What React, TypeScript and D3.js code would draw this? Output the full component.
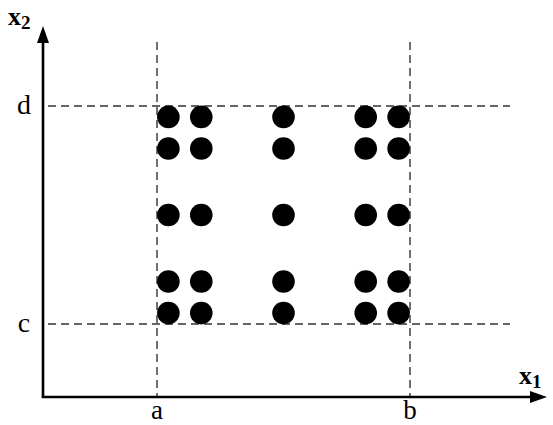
import { useEffect, useRef } from "react"
import * as d3 from "d3"

// normalized positions in [a,b] x [c,d]
const dotX = [0.045, 0.175, 0.5, 0.825, 0.955]
const dotY = [0.05, 0.195, 0.5, 0.805, 0.95]
const xBounds = [{ name: "a", v: 0 }, { name: "b", v: 1 }]
const yBounds = [{ name: "c", v: 0 }, { name: "d", v: 1 }]

const W = 553
const H = 425

const App = () => {
  const ref = useRef<SVGSVGElement>(null)

  useEffect(() => {
    const svg = d3.select(ref.current)
    svg.selectAll("*").remove()

    const x = d3.scaleLinear().domain([0, 1]).range([157, 410])
    const y = d3.scaleLinear().domain([0, 1]).range([324, 106])
    const ox = 43, oy = 397

    // dashed guide lines
    const guides = svg.append("g")
      .attr("stroke", "#333")
      .attr("stroke-width", 1.4)
      .attr("stroke-dasharray", "8,5")
      .attr("fill", "none")

    guides.selectAll("line.v")
      .data(xBounds)
      .join("line")
      .attr("class", "v")
      .attr("x1", d => x(d.v)).attr("x2", d => x(d.v))
      .attr("y1", 42).attr("y2", oy)

    guides.selectAll("line.h")
      .data(yBounds)
      .join("line")
      .attr("class", "h")
      .attr("x1", 48).attr("x2", 510)
      .attr("y1", d => y(d.v)).attr("y2", d => y(d.v))

    // dots
    const pts = d3.cross(dotX, dotY)
    svg.append("g")
      .selectAll("circle")
      .data(pts)
      .join("circle")
      .attr("cx", d => x(d[0]))
      .attr("cy", d => y(d[1]))
      .attr("r", 11.3)
      .attr("fill", "#000")

    // axes
    svg.append("line")
      .attr("x1", ox).attr("y1", oy).attr("x2", ox).attr("y2", 40)
      .attr("stroke", "#000").attr("stroke-width", 2.6)
    svg.append("line")
      .attr("x1", ox - 1.3).attr("y1", oy).attr("x2", 532).attr("y2", oy)
      .attr("stroke", "#000").attr("stroke-width", 2.6)
    svg.append("path")
      .attr("d", `M${ox},26 L${ox - 6},43 L${ox + 6},43 Z`)
      .attr("fill", "#000")
    svg.append("path")
      .attr("d", `M547,${oy} L530,${oy - 6} L530,${oy + 6} Z`)
      .attr("fill", "#000")

    const font = "'Liberation Serif', 'Times New Roman', serif"

    // boundary labels
    svg.selectAll("text.xb")
      .data(xBounds)
      .join("text")
      .attr("class", "xb")
      .attr("x", d => x(d.v))
      .attr("y", 419)
      .attr("text-anchor", "middle")
      .attr("font-family", font)
      .attr("font-size", 27)
      .text(d => d.name)

    svg.selectAll("text.yb")
      .data(yBounds)
      .join("text")
      .attr("class", "yb")
      .attr("x", 24)
      .attr("y", d => y(d.v) + 8)
      .attr("text-anchor", "middle")
      .attr("font-family", font)
      .attr("font-size", 28)
      .text(d => d.name)

    // axis titles
    const t2 = svg.append("text")
      .attr("x", 8).attr("y", 25)
      .attr("font-family", font)
      .attr("font-weight", "bold")
      .attr("font-size", 26)
    t2.append("tspan").text("x")
    t2.append("tspan").attr("font-size", 19).attr("dy", 4).text("2")

    const t1 = svg.append("text")
      .attr("x", 519).attr("y", 384)
      .attr("font-family", font)
      .attr("font-weight", "bold")
      .attr("font-size", 26)
    t1.append("tspan").text("x")
    t1.append("tspan").attr("font-size", 19).attr("dy", 4).text("1")
  }, [])

  return (
    <svg ref={ref} width={W} height={H}
      style={{ position: "absolute", left: 0, top: 0, background: "#fff" }} />
  )
}

export default App
